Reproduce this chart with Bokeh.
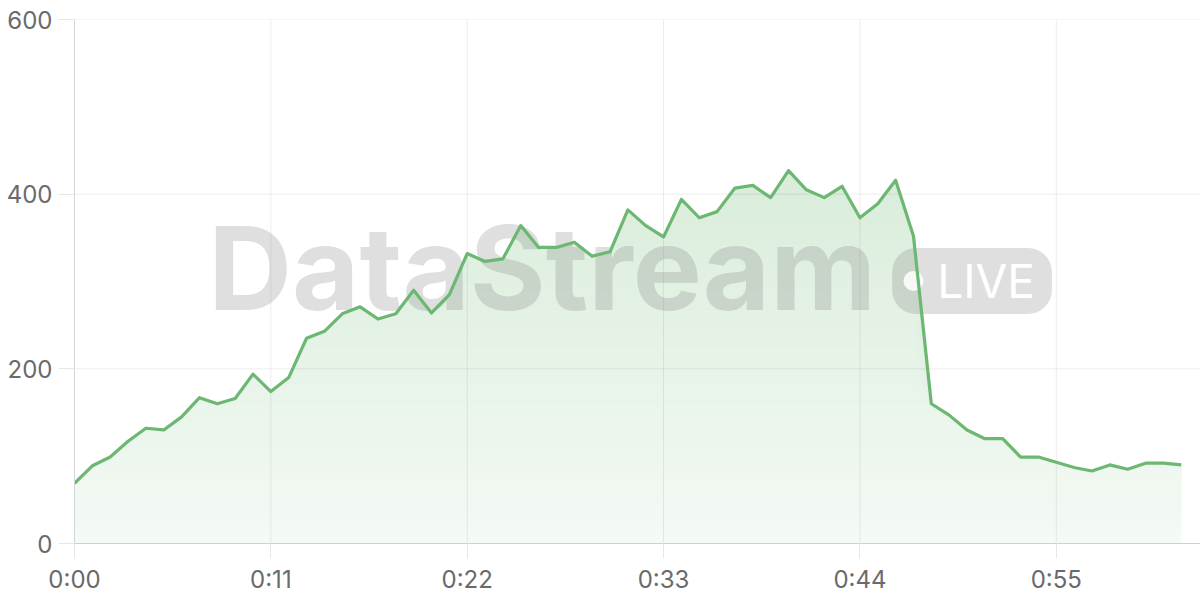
from bokeh.plotting import figure
from bokeh.models import FixedTicker, Range1d
from bokeh.core.properties import value
from bokeh.embed import file_html
from bokeh.resources import INLINE

# ---- data ----
seconds = [0, 1, 2, 3, 4, 5, 6, 7, 8, 9, 10, 11, 12, 13, 14, 15, 16, 17, 18, 19, 20,
           21, 22, 23, 24, 25, 26, 27, 28, 29, 30, 31, 32, 33, 34, 35, 36, 37, 38, 39, 40,
           41, 42, 43, 44, 45, 46, 47, 48, 49, 50, 51, 52, 53, 54, 55, 56, 57, 58, 59, 60,
           61, 62]
values = [69, 89, 99, 117, 132, 130, 145, 167, 160, 166, 194, 174, 190, 235, 243, 263,
          271, 257, 263, 290, 264, 285, 332, 323, 326, 364, 339, 339, 345, 329, 334, 382,
          364, 351, 394, 373, 380, 407, 410, 396, 427, 405, 396, 409, 373, 389, 416, 352,
          160, 147, 130, 120, 120, 99, 99, 93, 87, 83, 90, 85, 92, 92, 90]
x_ticks = [0, 11, 22, 33, 44, 55]
x_tick_labels = ["0:00", "0:11", "0:22", "0:33", "0:44", "0:55"]
y_ticks = [0, 200, 400, 600]

LINE = (108, 184, 114)
LINE_HEX = "#%02x%02x%02x" % LINE
FONT = "Inter"
X_END = 63.08

p = figure(width=1200, height=600, output_backend="svg", toolbar_location=None,
           x_range=Range1d(0, X_END), y_range=Range1d(0, 600),
           min_border_left=74, min_border_right=0, min_border_top=19, min_border_bottom=57)
p.outline_line_color = None
p.background_fill_color = "white"

# axes
p.xaxis.ticker = FixedTicker(ticks=x_ticks)
p.xaxis.major_label_overrides = {t: l for t, l in zip(x_ticks, x_tick_labels)}
p.yaxis.ticker = FixedTicker(ticks=y_ticks)
for ax in (p.xaxis, p.yaxis):
    ax.major_label_text_font = FONT
    ax.major_label_text_font_size = "24px"
    ax.major_label_text_color = "#6a6a6a"
    ax.minor_tick_line_color = None
    ax.major_tick_in = 0
p.xaxis.axis_line_color = "#cfcfcf"
p.xaxis.major_tick_line_color = "#e6e6e6"
p.xaxis.major_tick_out = 15
p.xaxis.major_label_standoff = 6
p.yaxis.axis_line_color = "#d6d6d6"
p.yaxis.major_tick_line_color = "#e6e6e6"
p.yaxis.major_tick_out = 16
p.yaxis.major_label_standoff = 6
p.xgrid.grid_line_color = None
p.ygrid.grid_line_color = None

# gradient-like area fill: opaque stacked layers, each covering the area above a level
top = max(values)
N = 40
a_bot, a_top = 0.075, 0.26


def blend(a):
    return "#%02x%02x%02x" % tuple(round(255 - a * (255 - c)) for c in LINE)


for k in range(N):
    t = top * k / N
    a = a_bot + (a_top - a_bot) * (k + 0.5) / N
    y1 = [min(v, t) for v in values]
    p.varea(x=seconds, y1=y1, y2=values, fill_color=blend(a), fill_alpha=1.0)

# grid lines drawn over the fill (semi-transparent, like under a translucent area)
gx = [t for t in x_ticks if t > 0]
p.segment(x0=gx, y0=[0] * len(gx), x1=gx, y1=[600] * len(gx),
          line_color="black", line_alpha=0.075, line_width=1)
gy = [t for t in y_ticks if t > 0]
p.segment(x0=[0] * len(gy), y0=gy, x1=[X_END] * len(gy), y1=gy,
          line_color="black", line_alpha=0.075, line_width=1)

# watermark
p.text(x=[26.2], y=[315], text=["DataStream"], text_font=value(FONT),
       text_font_style="bold", text_font_size="116px", text_color="#808080",
       text_alpha=0.25, text_align="center", text_baseline="alphabetic")
p.text(x=[50.28], y=[300.6], text=["LIVE"], text_font=value(FONT),
       text_font_size="46px", text_color="white", text_align="center",
       text_baseline="middle",
       background_fill_color="#808080", background_fill_alpha=0.25,
       padding=dict(left=45, right=17, top=5, bottom=5), border_radius=24)
p.scatter(x=[47.0], y=[300.6], size=20, fill_color="white", fill_alpha=0.85,
          line_color=None)

# line
p.line(x=seconds, y=values, line_color=LINE_HEX, line_width=3.2, line_join="round")

open("out.html", "w").write(file_html(p, INLINE))
